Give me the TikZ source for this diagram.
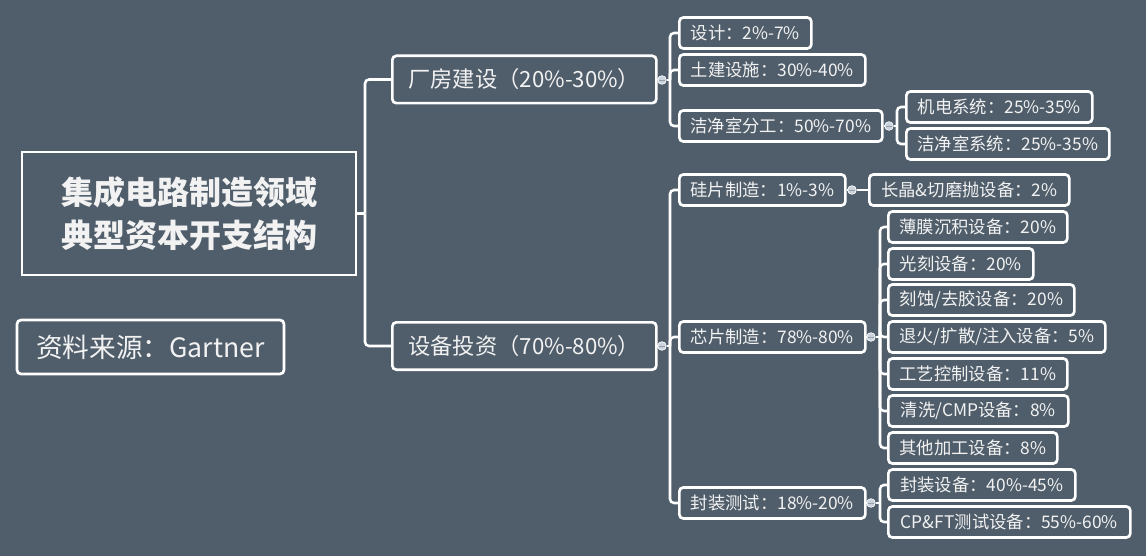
\documentclass[tikz,border=0pt]{standalone}
\usepackage{fontspec}
\setmainfont{Noto Sans CJK SC}
\definecolor{bg}{HTML}{505E6B}
\definecolor{txt}{HTML}{F2F2F2}
\definecolor{dotc}{HTML}{CBD3DE}
\tikzset{
  base/.style={draw=white, line width=2pt, text=txt, rounded corners=3pt, anchor=west, inner sep=0pt},
  leaf/.style={base, font=\fontsize{13}{16}\selectfont, minimum height=23.25pt},
  mid/.style={base, font=\fontsize{16.7}{20}\selectfont, minimum height=35.5pt},
  link/.style={draw=white, line width=1.9pt, rounded corners=3pt},
  knob/.style={circle, fill=dotc, draw=white, line width=0.5pt, minimum size=6.5pt, inner sep=0pt,
    path picture={\draw[bg!60!white, line width=0.6pt] ([xshift=-2pt]path picture bounding box.center) -- ([xshift=2pt]path picture bounding box.center);}},
}
\begin{document}
\begin{tikzpicture}[x=0.75pt,y=-0.75pt]
\fill[bg] (0,0) rectangle (1146,556);
\useasboundingbox (0,0) rectangle (1146,556);

% root and source
\node[draw=white, line width=2.2pt, minimum width=334*0.75pt, minimum height=123*0.75pt, align=center,
  font=\fontsize{24}{32}\selectfont\bfseries, text=txt, inner sep=0pt] (root) at (189,213.5) {集成电路制造领域\\典型资本开支结构};
\node[base, anchor=center, minimum width=267*0.75pt, minimum height=54*0.75pt, font=\fontsize{20}{23}\selectfont] (src) at (150.5,347) {资料来源：Gartner};

% level 1
\node[mid, minimum width=264*0.75pt] (fc) at (391,79.5) {厂房建设（20\%-30\%）};
\node[mid, minimum width=264*0.75pt] (sb) at (391,346) {设备投资（70\%-80\%）};

% level 2 under fc
\node[leaf, minimum width=132*0.75pt] (sj) at (678,33) {设计：2\%-7\%};
\node[leaf, minimum width=186*0.75pt] (tj) at (678,70) {土建设施：30\%-40\%};
\node[leaf, minimum width=203*0.75pt] (jj) at (678,126) {洁净室分工：50\%-70\%};
\node[leaf, minimum width=186*0.75pt] (jd) at (905,107) {机电系统：25\%-35\%};
\node[leaf, minimum width=203*0.75pt] (jx) at (905,144) {洁净室系统：25\%-35\%};

% level 2 under sb
\node[leaf, minimum width=166*0.75pt] (gp) at (678,190) {硅片制造：1\%-3\%};
\node[leaf, minimum width=200*0.75pt] (cj) at (868,190) {长晶\&切磨抛设备：2\%};
\node[leaf, minimum width=186*0.75pt] (xp) at (678,337) {芯片制造：78\%-80\%};
\node[leaf, minimum width=179*0.75pt] (bm) at (887,227) {薄膜沉积设备：20\%};
\node[leaf, minimum width=145*0.75pt] (gk) at (887,264) {光刻设备：20\%};
\node[leaf, minimum width=186*0.75pt] (ks) at (887,300) {刻蚀/去胶设备：20\%};
\node[leaf, minimum width=217*0.75pt] (th) at (887,337) {退火/扩散/注入设备：5\%};
\node[leaf, minimum width=179*0.75pt] (gy) at (887,374) {工艺控制设备：11\%};
\node[leaf, minimum width=180*0.75pt] (qx) at (887,411) {清洗/CMP设备：8\%};
\node[leaf, minimum width=169*0.75pt] (qt) at (887,448) {其他加工设备：8\%};
\node[leaf, minimum width=186*0.75pt] (fz) at (678,503) {封装测试：18\%-20\%};
\node[leaf, minimum width=187*0.75pt] (fs) at (887,485) {封装设备：40\%-45\%};
\node[leaf, minimum width=242*0.75pt] (cp) at (887,522) {CP\&FT测试设备：55\%-60\%};

% knobs
\node[knob] (kfc) at (662,80) {};
\node[knob] (kjj) at (889,126) {};
\node[knob] (ksb) at (662,346) {};
\node[knob] (kgp) at (852,190) {};
\node[knob] (kxp) at (871,337) {};
\node[knob] (kfz) at (871,503) {};

% root connectors
\draw[link] (root.east) -- (365,213.5) coordinate (rj);
\draw[link] (rj) |- (fc.west);
\draw[link] (rj) |- (sb.west);

% fc group
\draw[link] (fc.east) -- (kfc.west);
\draw[link] (kfc.east) -- (670,80) coordinate (tfc);
\foreach \c in {sj,tj,jj} \draw[link] (tfc) |- (\c.west);

% jj group
\draw[link] (jj.east) -- (kjj.west);
\draw[link] (kjj.east) -- (897,126) coordinate (tjj);
\foreach \c in {jd,jx} \draw[link] (tjj) |- (\c.west);

% sb group
\draw[link] (sb.east) -- (ksb.west);
\draw[link] (ksb.east) -- (670,346) coordinate (tsb);
\foreach \c in {gp,xp,fz} \draw[link] (tsb) |- (\c.west);

% gp group
\draw[link] (gp.east) -- (kgp.west);
\draw[link] (kgp.east) -- (cj.west);

% xp group
\draw[link] (xp.east) -- (kxp.west);
\draw[link] (kxp.east) -- (880,337) coordinate (txp);
\foreach \c in {bm,gk,ks,th,gy,qx,qt} \draw[link] (txp) |- (\c.west);

% fz group
\draw[link] (fz.east) -- (kfz.west);
\draw[link] (kfz.east) -- (880,503) coordinate (tfz);
\foreach \c in {fs,cp} \draw[link] (tfz) |- (\c.west);
\end{tikzpicture}
\end{document}
